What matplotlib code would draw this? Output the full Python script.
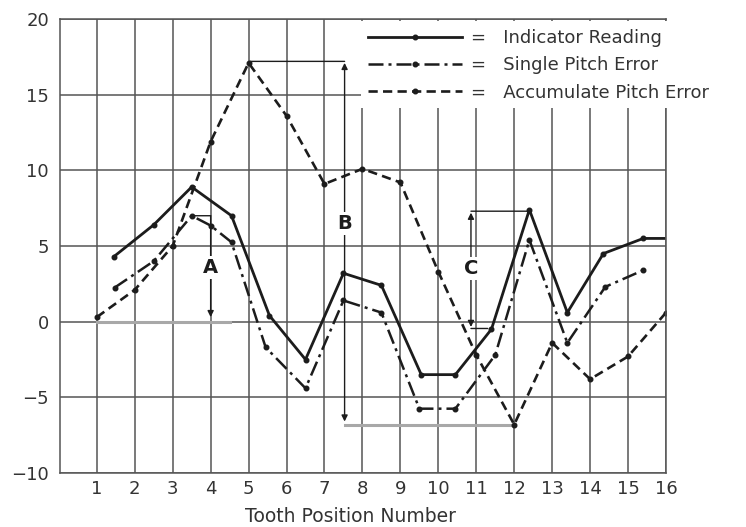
import matplotlib
matplotlib.use("Agg")
import matplotlib.pyplot as plt
from matplotlib.lines import Line2D
from matplotlib.patches import Rectangle

plt.rcParams['font.family'] = ['DejaVu Sans']

# readings taken off the chart
ind_x = [1.45, 2.5, 3.5, 4.55, 5.55, 6.5, 7.5, 8.5, 9.55, 10.45, 11.4, 12.4, 13.4, 14.35, 15.4, 15.95]
ind_y = [4.3, 6.4, 8.9, 7.0, 0.4, -2.5, 3.2, 2.4, -3.5, -3.5, -0.5, 7.4, 0.6, 4.5, 5.5, 5.5]

sp_x = [1.47, 2.5, 3.5, 4.0, 4.55, 5.45, 6.5, 7.5, 8.5, 9.5, 10.45, 11.5, 12.4, 13.4, 14.4, 15.4]
sp_y = [2.25, 4.0, 7.0, 6.35, 5.25, -1.7, -4.4, 1.4, 0.6, -5.75, -5.75, -2.2, 5.4, -1.4, 2.3, 3.4]

acc_x = list(range(1, 17))
acc_y = [0.3, 2.1, 5.0, 11.9, 17.1, 13.6, 9.1, 10.1, 9.2, 3.3, -2.2, -6.8, -1.4, -3.8, -2.3, 0.6]

xticks = list(range(1, 17))
yticks = [-10, -5, 0, 5, 10, 15, 20]

ink = '#1c1c1c'
gridc = '#555555'
txt = '#333333'

fig = plt.figure(figsize=(7.46, 5.27), dpi=100)
ax = fig.add_axes([60/746, 1-473/527, 606/746, 454/527])

ax.set_xlim(0.03, 16)
ax.set_ylim(-10, 20)
ax.set_xticks(xticks)
ax.set_yticks(yticks)
ax.set_yticklabels([str(v).replace('-', '\u2212') for v in yticks])
ax.tick_params(length=0, labelsize=13, colors=txt)
ax.tick_params(axis='y', pad=8)
ax.tick_params(axis='x', pad=5)
ax.grid(True, color=gridc, lw=1.1)
ax.set_axisbelow(True)
for s in ax.spines.values():
    s.set_color(gridc)
    s.set_linewidth(1.1)
ax.set_xlabel('Tooth Position Number', fontsize=13.5, color=txt, labelpad=5)
ax.xaxis.set_label_coords(0.48, -0.075)

# white patch behind the legend hides the grid there
ax.add_patch(Rectangle((7.97, 14.15), 8.6, 5.72, facecolor='white',
                       edgecolor='none', zorder=2.7, clip_on=False))

ax.plot(ind_x, ind_y, color=ink, lw=2, marker='o', ms=3.3, markevery=list(range(15)))
ax.plot(sp_x, sp_y, color=ink, lw=1.8, marker='o', ms=3.3, dashes=(6, 2, 1.2, 2))
ax.plot(acc_x, acc_y, color=ink, lw=1.9, marker='o', ms=3.3, dashes=(3.5, 2))

# reference lines
ax.plot([1, 4.5], [0, 0], color='#a8a8a8', lw=2.2, zorder=1.5)
ax.plot([7.53, 12], [-6.8, -6.8], color='#a8a8a8', lw=2.2, zorder=1.5)

lbl = dict(fontsize=14, fontweight='bold', ha='center', va='center', color=ink,
           bbox=dict(facecolor='white', edgecolor='none', pad=1.5), zorder=4)
head = dict(arrowstyle='-|>', color=ink, lw=1, mutation_scale=9, shrinkA=0, shrinkB=0)
line = dict(arrowstyle='-', color=ink, lw=1, shrinkA=0, shrinkB=0)

# A
ax.annotate('', xy=(4, 7.0), xytext=(3.5, 7.0), arrowprops=line)
ax.annotate('', xy=(4, 0.3), xytext=(4, 7.0), arrowprops=head)
ax.text(4, 3.6, 'A', **lbl)

# B
ax.annotate('', xy=(7.53, 17.2), xytext=(5.05, 17.2), arrowprops=line)
ax.annotate('', xy=(7.53, 17.1), xytext=(7.53, 6), arrowprops=head)
ax.annotate('', xy=(7.53, -6.6), xytext=(7.53, 6), arrowprops=head)
ax.text(7.53, 6.5, 'B', **lbl)

# C
ax.annotate('', xy=(12.4, 7.3), xytext=(10.86, 7.3), arrowprops=line)
ax.annotate('', xy=(11.3, -0.45), xytext=(10.86, -0.45), arrowprops=line)
ax.annotate('', xy=(10.86, 7.2), xytext=(10.86, 3.5), arrowprops=head)
ax.annotate('', xy=(10.86, -0.35), xytext=(10.86, 3.5), arrowprops=head)
ax.text(10.86, 3.5, 'C', **lbl)

handles = [
    Line2D([], [], color=ink, lw=2, marker='o', ms=3.3),
    Line2D([], [], color=ink, lw=1.8, marker='o', ms=3.3, dashes=(6, 2, 1.2, 2)),
    Line2D([], [], color=ink, lw=1.9, marker='o', ms=3.3, dashes=(3.5, 2)),
]
labels = ['=   Indicator Reading', '=   Single Pitch Error', '=   Accumulate Pitch Error']
leg = ax.legend(handles, labels, loc='upper left', bbox_to_anchor=(368/746, 1-29/527),
                bbox_transform=fig.transFigure, frameon=False, fontsize=13,
                handlelength=5.2, handletextpad=0.5, labelspacing=0.52,
                borderpad=0, borderaxespad=0, numpoints=1)
leg.set_zorder(5)
for t in leg.get_texts():
    t.set_color(txt)

fig.savefig('out.png', dpi=100)
